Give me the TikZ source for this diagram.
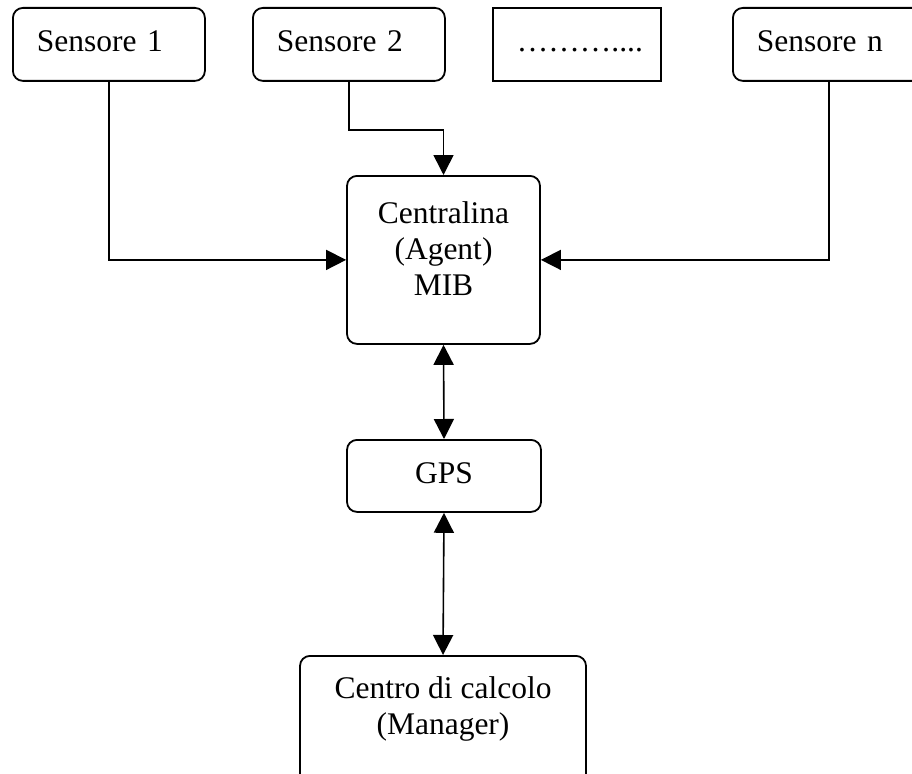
\documentclass[tikz,border=0pt]{standalone}
\usepackage{fontspec}
\setmainfont{Liberation Serif}
\usetikzlibrary{arrows.meta,positioning}

\begin{document}
\begin{tikzpicture}[x=1pt, y=-1pt, >={Triangle[length=20pt,width=20pt]},
    every node/.style={font=\fontsize{31.5}{36}\selectfont},
    box/.style={draw, line width=1.8pt, rounded corners=10pt, inner sep=0pt},
    sensbox/.style={box, anchor=north west, minimum height=73pt, text width=144pt,
      inner xsep=24pt, align=left, text height=22pt, text depth=7pt},
    conn/.style={line width=1.6pt}]
  \useasboundingbox (0,0) rectangle (912,773);

  % Sensors along the top
  \node[sensbox] (s1) at (12,7) {Sensore 1};
  \node[sensbox] (s2) at (252,7) {Sensore 2};
  \node[sensbox, sharp corners, text width=120pt] (sdots) at (492,7) {………....};
  \node[sensbox] (sn) at (732,7) {Sensore n};

  % Agent, GPS and manager
  \node[box, anchor=north, minimum width=193pt, minimum height=168pt, align=center,
    text depth=22pt] (cent) at (443.5,175) {Centralina\\(Agent)\\MIB};
  \node[box, anchor=north, minimum width=194pt, minimum height=72pt,
    text height=22pt, text depth=7pt] (gps) at (444,439) {GPS};
  \node[box, anchor=north, minimum width=286pt, minimum height=130pt, align=center,
    text depth=31pt] (centro) at (443,655) {Centro di calcolo\\(Manager)};

  % Links
  \draw[conn, ->] (s1.south) |- (cent.west);
  \draw[conn, ->] (s2.south) -- ++(0,48) -| (cent.north);
  \draw[conn, ->] (sn.south) |- (cent.east);
  \draw[conn, <->] (cent.south) -- (gps.north);
  \draw[conn, <->] (gps.south) -- (centro.north);
\end{tikzpicture}
\end{document}
